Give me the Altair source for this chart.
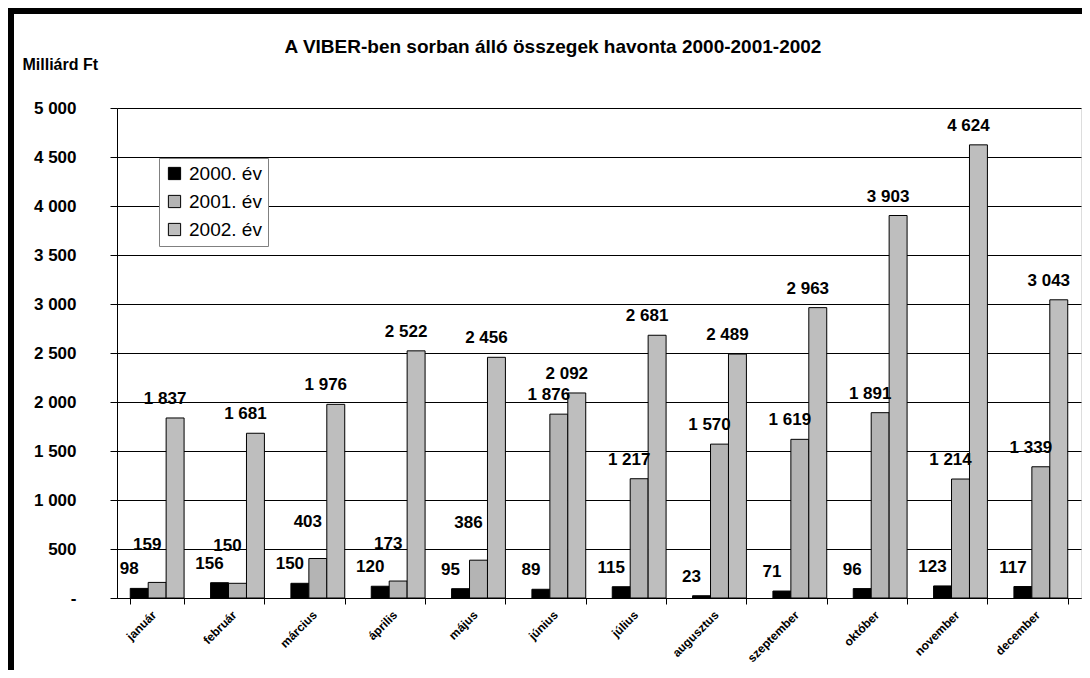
import altair as alt
import pandas as pd

months = ["január", "február", "március", "április", "május", "június",
          "július", "augusztus", "szeptember", "október", "november", "december"]
series = ["2000. év", "2001. év", "2002. év"]
v2000 = [98, 156, 150, 120, 95, 89, 115, 23, 71, 96, 123, 117]
v2001 = [159, 150, 403, 173, 386, 1876, 1217, 1570, 1619, 1891, 1214, 1339]
v2002 = [1837, 1681, 1976, 2522, 2456, 2092, 2681, 2489, 2963, 3903, 4624, 3043]
y_ticks = [0, 500, 1000, 1500, 2000, 2500, 3000, 3500, 4000, 4500, 5000]
title_text = "A VIBER-ben sorban álló összegek havonta 2000-2001-2002"
y_title = "Milliárd Ft"
colors = ["#000000", "#b4b4b4", "#bebebe"]

rows = []
for s, vals in zip(series, [v2000, v2001, v2002]):
    for m, v in zip(months, vals):
        rows.append({"month": m, "series": s, "value": v})
df = pd.DataFrame(rows)

FONT = "Liberation Sans"
NB = "\u00a0"

x_enc = alt.X(
    "month:N", sort=months,
    scale=alt.Scale(paddingInner=0.33, paddingOuter=0.165),
    axis=alt.Axis(title=None, labelAngle=-45, labelFontSize=12, labelFontWeight="bold",
                  labelFont=FONT, labelColor="black", tickBand="extent", tickSize=6,
                  tickColor="black", domainColor="black", labelPadding=5,
                  labelOffset=-7, grid=False),
)
xo = alt.XOffset("series:N", sort=series)
y_enc = alt.Y(
    "value:Q",
    scale=alt.Scale(domain=[0, 5000], nice=False),
    axis=alt.Axis(
        values=y_ticks, title=y_title, titleAngle=0, titleAlign="left",
        titleBaseline="middle", titleX=-95, titleY=-44, titleFontSize=16,
        titleFontWeight="bold", titleFont=FONT, titleColor="black",
        labelFontSize=17, labelFontWeight="bold", labelFont=FONT, labelColor="black",
        labelPadding=34, tickSize=7, tickColor="black", domainColor="black",
        grid=True, gridColor="black", gridWidth=1,
        labelExpr="datum.value == 0 ? '-" + NB * 5 + "' : replace(format(datum.value, ','), ',', ' ')",
    ),
)

base = alt.Chart(df)

bars = base.mark_bar(stroke="black", strokeWidth=1).encode(
    x=x_enc, xOffset=xo, y=y_enc,
    color=alt.Color(
        "series:N",
        scale=alt.Scale(domain=series, range=colors),
        legend=alt.Legend(
            title=None, orient="none", legendX=42, legendY=50, fillColor="white",
            strokeColor="#808080", padding=6, symbolType="square", symbolSize=150,
            symbolStrokeColor="black", symbolStrokeWidth=1, labelFontSize=19,
            labelFont=FONT, labelColor="black", rowPadding=8, labelOffset=5,
        ),
    ),
)

lab = base.transform_calculate(
    label="replace(format(datum.value, ','), ',', ' ')"
)
txt_std = lab.transform_filter(
    "!(datum.series == '2001. év' && datum.value < 500)"
).mark_text(font=FONT, fontSize=17, fontWeight="bold", dx=-10, dy=-19,
            baseline="middle", color="black").encode(
    x=x_enc, xOffset=xo, y=y_enc, text="label:N")
txt_up = lab.transform_filter(
    "datum.series == '2001. év' && datum.value < 500"
).mark_text(font=FONT, fontSize=17, fontWeight="bold", dx=-10, dy=-37,
            baseline="middle", color="black").encode(
    x=x_enc, xOffset=xo, y=y_enc, text="label:N")

frame_df = pd.DataFrame({"k": [0]})
frame_top = alt.Chart(frame_df).mark_rule(color="black", strokeWidth=6, strokeCap="butt").encode(
    x=alt.value(-109), x2=alt.value(965), y=alt.value(-97))
frame_left = alt.Chart(frame_df).mark_rule(color="black", strokeWidth=6, strokeCap="butt").encode(
    x=alt.value(-106), y=alt.value(-100), y2=alt.value(562))

chart = alt.layer(bars, txt_std, txt_up, frame_top, frame_left).properties(
    width=964, height=490,
    title=alt.TitleParams(title_text, fontSize=19, fontWeight="bold", font=FONT,
                          anchor="middle", frame="group", offset=-52, dx=-46, color="black"),
    autosize=alt.AutoSizeParams(type="none"),
    padding={"left": 109, "top": 100, "right": 1, "bottom": 72},
).configure_view(stroke="#808080", strokeWidth=1).configure(background="white")

chart.save("out.html", embed_options={"renderer": "svg", "actions": False})
